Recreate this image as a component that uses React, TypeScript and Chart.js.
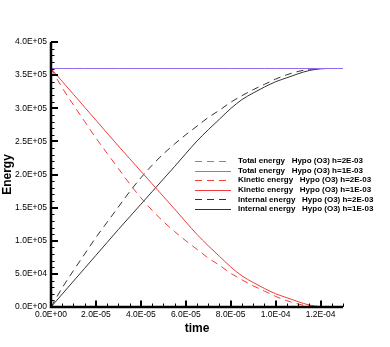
import React, { useEffect, useRef } from 'react';
import { Chart, registerables } from 'chart.js';

Chart.register(...registerables);

// time (s)
const timeValues = [
  0, 5e-6, 1e-5, 1.5e-5, 2e-5, 2.5e-5, 3e-5, 3.5e-5, 4e-5, 4.5e-5, 5e-5, 5.5e-5, 6e-5, 6.5e-5,
  7e-5, 7.5e-5, 8e-5, 8.5e-5, 9e-5, 9.5e-5, 1e-4, 1.05e-4, 1.1e-4, 1.15e-4, 1.2e-4, 1.25e-4, 1.3e-4,
];

const totalH2 = [
  360000, 360000, 360000, 360000, 360000, 360000, 360000, 360000, 360000, 360000, 360000, 360000, 360000, 360000,
  360000, 360000, 360000, 360000, 360000, 360000, 360000, 360000, 360000, 360000, 360000, 360000, 360000,
];
const totalH1 = [
  360000, 360000, 360000, 360000, 360000, 360000, 360000, 360000, 360000, 360000, 360000, 360000, 360000, 360000,
  360000, 360000, 360000, 360000, 360000, 360000, 360000, 360000, 360000, 360000, 360000, 360000, 360000,
];
const kineticH2 = [
  360000, 331000, 305000, 280000, 255000, 232000, 209000, 186000, 165000, 146000, 129000, 114000, 100000, 87000,
  74000, 63000, 51000, 41000, 32000, 24000, 16000, 9500, 4500, 1200, 0, 0, 0,
];
const kineticH1 = [
  360000, 340500, 321000, 301500, 282000, 262500, 243000, 224000, 205000, 186000, 167000, 148000, 128500, 109500,
  92500, 76500, 60500, 47000, 37000, 28000, 20000, 14000, 8000, 3000, 500, 0, 0,
];
const internalH2 = [
  0, 29000, 55000, 80000, 105000, 128000, 151000, 174000, 195000, 214000, 231000, 246000, 260000, 273000,
  286000, 297000, 309000, 319000, 328000, 336000, 344000, 350500, 355500, 358800, 360000, 360000, 360000,
];
const internalH1 = [
  0, 19500, 39000, 58500, 78000, 97500, 117000, 136000, 155000, 174000, 193000, 212000, 231500, 250500,
  267500, 283500, 299500, 313000, 323000, 332000, 340000, 346000, 352000, 357000, 359500, 360000, 360000,
];

const seriesLabels = [
  'Total energy   Hypo (O3) h=2E-03',
  'Total energy   Hypo (O3) h=1E-03',
  'Kinetic energy   Hypo (O3) h=2E-03',
  'Kinetic energy   Hypo (O3) h=1E-03',
  'Internal energy   Hypo (O3) h=2E-03',
  'Internal energy   Hypo (O3) h=1E-03',
];

const xTickValues = [0, 2e-5, 4e-5, 6e-5, 8e-5, 1e-4, 1.2e-4];
const xTickLabels = ['0.0E+00', '2.0E-05', '4.0E-05', '6.0E-05', '8.0E-05', '1.0E-04', '1.2E-04'];
const yTickValues = [0, 50000, 100000, 150000, 200000, 250000, 300000, 350000, 400000];
const yTickLabels = ['0.0E+00', '5.0E+04', '1.0E+05', '1.5E+05', '2.0E+05', '2.5E+05', '3.0E+05', '3.5E+05', '4.0E+05'];

const X_MIN = 0;
const X_MAX = 1.3e-4;
const Y_MIN = 0;
const Y_MAX = 400000;
const X_MINOR_STEP = 5e-6;
const Y_MINOR_STEP = 10000;

const PURPLE = '#946cf0';
const RED = '#f03c3c';
const BLACK = '#333333';
const DASH = [7, 5];
const FONT = "'Liberation Sans', Arial, Helvetica, sans-serif";

const axesPlugin = {
  id: 'tecAxes',
  afterDatasetsDraw(chart: any) {
    const { ctx, chartArea: ca, scales } = chart;
    const xs = scales.x;
    const ys = scales.y;
    ctx.save();
    ctx.strokeStyle = '#000';
    ctx.lineWidth = 1;
    ctx.beginPath();
    for (let i = 0; X_MIN + i * X_MINOR_STEP <= X_MAX + 1e-12; i++) {
      const px = Math.round(xs.getPixelForValue(X_MIN + i * X_MINOR_STEP)) + 0.5;
      ctx.moveTo(px, ca.bottom);
      ctx.lineTo(px, ca.bottom - 3.5);
    }
    for (let i = 0; Y_MIN + i * Y_MINOR_STEP <= Y_MAX + 1e-6; i++) {
      const py = Math.round(ys.getPixelForValue(Y_MIN + i * Y_MINOR_STEP)) + 0.5;
      ctx.moveTo(ca.left, py);
      ctx.lineTo(ca.left + 3.5, py);
    }
    ctx.stroke();
    ctx.lineWidth = 2;
    ctx.beginPath();
    xTickValues.forEach((v) => {
      const px = Math.round(xs.getPixelForValue(v));
      ctx.moveTo(px, ca.bottom);
      ctx.lineTo(px, ca.bottom - 6.5);
    });
    yTickValues.forEach((v) => {
      const py = Math.round(ys.getPixelForValue(v));
      ctx.moveTo(ca.left, py);
      ctx.lineTo(ca.left + 7, py);
    });
    ctx.stroke();
    ctx.lineWidth = 2.5;
    ctx.beginPath();
    ctx.moveTo(ca.left, ys.getPixelForValue(Y_MAX));
    ctx.lineTo(ca.left, ca.bottom + 1.2);
    ctx.moveTo(ca.left - 1.2, ca.bottom);
    ctx.lineTo(xs.getPixelForValue(X_MAX), ca.bottom);
    ctx.stroke();
    ctx.restore();
  },
};

const legendPlugin = {
  id: 'tecLegend',
  afterDraw(chart: any) {
    const { ctx } = chart;
    const sampleX0 = 195;
    const sampleX1 = 231;
    const textX = 238;
    const rowY0 = 161;
    const rowStep = 9.6;
    ctx.save();
    chart.data.datasets.forEach((ds: any, i: number) => {
      const y = rowY0 + i * rowStep;
      ctx.strokeStyle = ds.borderColor;
      ctx.lineWidth = 1;
      ctx.setLineDash(ds.borderDash || []);
      ctx.beginPath();
      ctx.moveTo(sampleX0, Math.round(y) + 0.5);
      ctx.lineTo(sampleX1, Math.round(y) + 0.5);
      ctx.stroke();
      ctx.setLineDash([]);
      ctx.fillStyle = '#000';
      ctx.font = `bold 8px ${FONT}`;
      ctx.textBaseline = 'middle';
      ctx.textAlign = 'left';
      ctx.fillText(ds.label, textX, y);
    });
    ctx.restore();
  },
};

function toPoints(ys: number[]) {
  return timeValues.map((t, i) => ({ x: t, y: ys[i] }));
}

export default function App() {
  const canvasRef = useRef<HTMLCanvasElement | null>(null);

  useEffect(() => {
    document.body.style.margin = '0';
    const canvas = canvasRef.current;
    if (!canvas) return;
    const chart = new Chart(canvas, {
      type: 'line',
      data: {
        datasets: [
          { label: seriesLabels[0], data: toPoints(totalH2), borderColor: PURPLE, borderDash: DASH },
          { label: seriesLabels[1], data: toPoints(totalH1), borderColor: PURPLE },
          { label: seriesLabels[2], data: toPoints(kineticH2), borderColor: RED, borderDash: DASH },
          { label: seriesLabels[3], data: toPoints(kineticH1), borderColor: RED },
          { label: seriesLabels[4], data: toPoints(internalH2), borderColor: BLACK, borderDash: DASH },
          { label: seriesLabels[5], data: toPoints(internalH1), borderColor: BLACK },
        ] as any,
      },
      options: {
        animation: false,
        responsive: false,
        devicePixelRatio: 1,
        elements: {
          point: { radius: 0 },
          line: { borderWidth: 1, tension: 0.4, cubicInterpolationMode: 'monotone', fill: false },
        },
        layout: { padding: { top: 42, right: 47, left: 0, bottom: 0 } },
        plugins: {
          legend: { display: false },
          tooltip: { enabled: false },
          title: { display: false },
        },
        scales: {
          x: {
            type: 'linear',
            min: X_MIN,
            max: X_MAX,
            afterFit: (s: any) => {
              s.height = 40;
            },
            afterBuildTicks: (s: any) => {
              s.ticks = xTickValues.map((v) => ({ value: v }));
            },
            ticks: {
              autoSkip: false,
              maxRotation: 0,
              minRotation: 0,
              padding: 3,
              color: '#000',
              font: { family: FONT, size: 8.5 },
              callback: (v: any) => xTickLabels[xTickValues.indexOf(Number(v))] ?? '',
            },
            grid: { display: false, drawTicks: false },
            border: { display: false },
            title: {
              display: true,
              text: 'time',
              color: '#000',
              font: { family: FONT, size: 12, weight: 'bold' },
              padding: { top: 0, bottom: 11 },
            },
          },
          y: {
            type: 'linear',
            min: Y_MIN,
            max: Y_MAX,
            afterFit: (s: any) => {
              s.width = 51;
            },
            afterBuildTicks: (s: any) => {
              s.ticks = yTickValues.map((v) => ({ value: v }));
            },
            ticks: {
              autoSkip: false,
              padding: 4,
              color: '#000',
              font: { family: FONT, size: 8.5 },
              callback: (v: any) => yTickLabels[yTickValues.indexOf(Number(v))] ?? '',
            },
            grid: { display: false, drawTicks: false },
            border: { display: false },
            title: {
              display: true,
              text: 'Energy',
              color: '#000',
              font: { family: FONT, size: 12, weight: 'bold' },
              padding: { top: 0.5, bottom: 0 },
            },
          },
        },
      } as any,
      plugins: [axesPlugin, legendPlugin],
    });
    return () => chart.destroy();
  }, []);

  return (
    <div style={{ width: 390, height: 347, position: 'relative', background: '#fff' }}>
      <canvas ref={canvasRef} width={390} height={347} style={{ display: 'block', width: 390, height: 347 }} />
    </div>
  );
}
